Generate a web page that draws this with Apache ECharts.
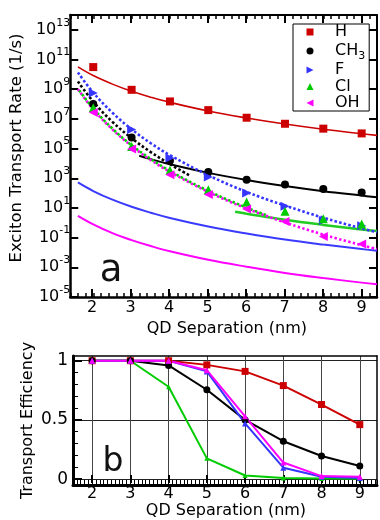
<!DOCTYPE html>
<html><head><meta charset="utf-8">
<script src="https://cdn.jsdelivr.net/npm/echarts@6/dist/echarts.min.js"></script>
<style>html,body{margin:0;padding:0;background:#fff}#c{width:380px;height:520px}</style>
</head><body><div id="c"></div>
<script>
const FONT = '"DejaVu Sans", "Liberation Sans", Arial, sans-serif';

// ---------- Panel a: transport rates (1/s) ----------
const sepX = [2, 3, 4, 5, 6, 7, 8, 9];
const legendNames = ['H', 'CH3', 'F', 'Cl', 'OH'];
const rateH   = [3.1e10, 9.1e8, 1.5e8, 3.9e7, 1.2e7, 4.7e6, 2.2e6, 1.05e6];
const rateCH3 = [1.0e8, 5.6e5, 1.5e4, 2.6e3, 8.0e2, 3.8e2, 1.9e2, 1.1e2];
const rateF   = [5.5e8, 1.9e6, 2.3e4, 1.2e3, 1.0e2, 13, 1.4, 0.63];
const rateCl  = [5.6e7, 1.4e5, 3.4e3, 1.7e2, 25, 5.9, 1.9, 0.83];
const rateOH  = [2.7e7, 9.3e4, 1.7e3, 79, 8.5, 1.2, 0.12, 0.037];

// fit curves
const fitX = [1.6, 2, 2.5, 3, 3.5, 4, 5, 6, 7, 8, 9, 9.4];
const fitHSolid       = [3.2e10, 8.3e9, 2.2e9, 7.2e8, 2.9e8, 1.3e8, 3.4e7, 1.15e7, 4.5e6, 2.0e6, 1.0e6, 7.8e5];
const fitBlueSolid    = [525, 138, 36, 12, 4.8, 2.1, 0.56, 0.19, 0.074, 0.034, 0.017, 0.013];
const fitMagentaSolid = [2.95, 0.78, 0.20, 0.068, 0.027, 0.012, 0.0032, 0.0011, 4.2e-4, 1.9e-4, 9.3e-5, 7.2e-5];
const fitFDotted      = [1.35e10, 5.9e8, 2.6e7, 2.0e6, 2.3e5, 3.6e4, 1.6e3, 1.2e2, 14.5, 2.2, 0.42, 0.23];
const fitOHDotted     = [1.0e9, 4.4e7, 1.95e6, 1.5e5, 1.7e4, 2.7e3, 1.2e2, 9.1, 1.07, 0.16, 0.031, 0.017];
const fitClDottedX = [1.6, 2, 2.5, 3, 3.5, 4, 5, 6, 6.5];
const fitClDotted  = [1.1e9, 5.0e7, 2.2e6, 1.7e5, 2.0e4, 3.1e3, 1.4e2, 10.5, 3.4];
const fitCH3DottedX = [1.6, 2, 2.5, 3, 3.5, 4, 4.5];
const fitCH3Dotted  = [3.3e9, 1.45e8, 6.3e6, 5.0e5, 5.8e4, 8.9e3, 1.6e3];
const fitCH3SolidX = [3.2, 3.5, 4, 5, 6, 7, 8, 9, 9.4];
const fitCH3Solid  = [3.3e4, 1.95e4, 8.7e3, 2.3e3, 7.6e2, 3.0e2, 1.35e2, 68, 52];
const fitClSolidX = [5.7, 6, 7, 8, 9, 9.4];
const fitClSolid  = [5.5, 4.1, 1.6, 0.72, 0.35, 0.28];

// ---------- Panel b: transport efficiency ----------
const effH   = [1, 1, 1, 0.965, 0.91, 0.79, 0.63, 0.46];
const effCH3 = [1, 1, 0.96, 0.755, 0.5, 0.32, 0.195, 0.11];
const effF   = [1, 1, 1, 0.91, 0.47, 0.096, 0.02, 0.01];
const effCl  = [1, 1, 0.78, 0.175, 0.03, 0.01, 0.005, 0.002];
const effOH  = [1, 1, 1, 0.92, 0.53, 0.14, 0.025, 0.02];

const COL = { H: '#cc0000', CH3: '#000000', F: '#3535ff', Cl: '#00cc00', OH: '#ff00ff' };
const RIGHT_TRI = 'path://M0,0L10,5L0,10Z';
const LEFT_TRI = 'path://M10,0L0,5L10,10Z';

// layout
const A = { left: 69, top: 15, width: 308, height: 282, xmin: 1.4, xmax: 9.4 };
const ppuA = A.width / (A.xmax - A.xmin);
const B = { left: 73, top: 356, width: 304, height: 129, xmin: 1.5, xmax: 9.45, ymin: -0.05, ymax: 1.04 };
const ppuB = B.width / (B.xmax - B.xmin);
const pyB = B.height / (B.ymax - B.ymin);

const zip = (xs, ys) => xs.map((x, i) => [x, ys[i]]);

function fit(name, xs, ys, color, width, dash, offset) {
  return { type: 'line', name, xAxisIndex: 0, yAxisIndex: 0, data: zip(xs, ys),
    symbol: 'none', showSymbol: false, smooth: 0.4, silent: true, z: 2,
    lineStyle: { color, width, type: dash || 'solid', dashOffset: offset || 0, cap: 'butt' } };
}
function pts(name, ys, symbol, size) {
  return { type: 'scatter', name, xAxisIndex: 0, yAxisIndex: 0, data: zip(sepX, ys),
    symbol, symbolSize: size, itemStyle: { color: COL[name], opacity: 1 }, z: 4 };
}
function eff(name, ys, symbol, size) {
  return { type: 'line', name: name + ' eff', xAxisIndex: 4, yAxisIndex: 3, data: zip(sepX, ys),
    symbol, symbolSize: size, showSymbol: true, z: 3,
    lineStyle: { color: COL[name], width: 2 }, itemStyle: { color: COL[name] } };
}

const dots = [2.6, 2.2];
const series = [
  fit('fitH', fitX, fitHSolid, COL.H, 1.6),
  fit('fitBlue', fitX, fitBlueSolid, '#3a3aff', 2),
  fit('fitMag', fitX, fitMagentaSolid, COL.OH, 2),
  fit('fitCH3s', fitCH3SolidX, fitCH3Solid, '#000', 2),
  fit('fitCls', fitClSolidX, fitClSolid, '#22cc22', 2.5),
  fit('fitCH3d', fitCH3DottedX, fitCH3Dotted, '#000', 2.6, dots),
  fit('fitFd', fitX, fitFDotted, '#3535ff', 2.6, dots),
  fit('fitOHd', fitX, fitOHDotted, COL.OH, 2.6, [2.4, 2.4]),
  fit('fitCld', fitClDottedX, fitClDotted, COL.Cl, 2.6, [2.4, 2.4], 2.4),
  pts('H', rateH, 'rect', 8),
  pts('CH3', rateCH3, 'circle', 8),
  pts('F', rateF, RIGHT_TRI, 9),
  pts('Cl', rateCl, 'triangle', 9),
  pts('OH', rateOH, LEFT_TRI, 9),
  eff('H', effH, 'rect', 7),
  eff('CH3', effCH3, 'circle', 7),
  eff('Cl', effCl, 'triangle', 5),
  eff('F', effF, 'triangle', 6),
  eff('OH', effOH, 'triangle', 6)
];

const blackLine = w => ({ show: true, onZero: false, lineStyle: { color: '#000', width: w } });
const noLine = { show: false };
const lblFont = { fontFamily: FONT, color: '#000' };

const option = {
  animation: false,
  backgroundColor: '#fff',
  textStyle: { fontFamily: FONT },
  grid: [
    { left: A.left, top: A.top, width: A.width, height: A.height },
    { left: A.left + (2 - A.xmin) * ppuA, top: A.top, width: 7 * ppuA, height: A.height },
    { left: B.left, top: B.top, width: B.width, height: B.height },
    { left: B.left + (2 - B.xmin) * ppuB, top: B.top, width: 7 * ppuB, height: B.height },
    { left: B.left, top: B.top + (B.ymax - 1) * pyB, width: B.width, height: pyB }
  ],
  xAxis: [
    { gridIndex: 0, type: 'value', position: 'bottom', min: A.xmin, max: A.xmax, interval: 0.2,
      axisLine: blackLine(2.5), axisTick: { inside: true, length: 4, lineStyle: { width: 1.5, color: '#000' } },
      axisLabel: { show: false }, splitLine: { show: false } },
    { gridIndex: 0, type: 'value', position: 'top', min: A.xmin, max: A.xmax, interval: 0.2,
      axisLine: blackLine(2), axisTick: { inside: true, length: 4, lineStyle: { width: 1.5, color: '#000' } },
      axisLabel: { show: false }, splitLine: { show: false } },
    { gridIndex: 1, type: 'value', position: 'bottom', min: 2, max: 9, interval: 1,
      axisLine: noLine, axisTick: { inside: true, length: 8, lineStyle: { width: 2, color: '#000' } },
      axisLabel: Object.assign({ fontSize: 16, margin: 3 }, lblFont), splitLine: { show: false },
      name: 'QD Separation (nm)', nameLocation: 'middle', nameGap: 23,
      nameTextStyle: { fontSize: 16, fontFamily: FONT, color: '#000' } },
    { gridIndex: 1, type: 'value', position: 'top', min: 2, max: 9, interval: 1,
      axisLine: noLine, axisTick: { inside: true, length: 8, lineStyle: { width: 2, color: '#000' } },
      axisLabel: { show: false }, splitLine: { show: false } },
    { gridIndex: 2, type: 'value', position: 'bottom', min: B.xmin, max: B.xmax, interval: 0.1,
      axisLine: blackLine(3), axisTick: { inside: true, length: 5, lineStyle: { width: 1, color: '#000' } },
      axisLabel: { show: false }, splitLine: { show: false } },
    { gridIndex: 2, type: 'value', position: 'top', min: B.xmin, max: B.xmax,
      axisLine: blackLine(1.5), axisTick: { show: false }, axisLabel: { show: false }, splitLine: { show: false } },
    { gridIndex: 3, type: 'value', position: 'bottom', min: 2, max: 9, interval: 1,
      axisLine: noLine, axisTick: { inside: true, length: 8, lineStyle: { width: 2, color: '#000' } },
      axisLabel: Object.assign({ fontSize: 16, margin: 3 }, lblFont),
      splitLine: { show: true, lineStyle: { color: '#444', width: 1 } },
      name: 'QD Separation (nm)', nameLocation: 'middle', nameGap: 20,
      nameTextStyle: { fontSize: 16, fontFamily: FONT, color: '#000' } },
    { gridIndex: 4, type: 'value', min: 0, max: 1, show: false }
  ],
  yAxis: [
    { gridIndex: 0, type: 'log', logBase: 10, position: 'left', min: 1e-5, max: 1e14, interval: 2,
      axisLine: blackLine(2.5), axisTick: { inside: true, length: 8, lineStyle: { width: 2, color: '#000' } },
      splitLine: { show: false },
      axisLabel: { margin: 0, showMaxLabel: false,
        formatter: v => { const e = Math.round(Math.log10(v)); if (Math.abs(e + 5) % 2 !== 0) return ''; return '{b|10}{s|' + e + '}'; },
        rich: { b: { fontSize: 16, lineHeight: 20, fontFamily: FONT, color: '#000' },
                s: { fontSize: 11, lineHeight: 20, fontFamily: FONT, color: '#000', padding: [0, 0, 14, 0] } } },
      name: 'Exciton Transport Rate (1/s)', nameLocation: 'middle', nameGap: 42,
      nameTextStyle: { fontSize: 16.5, fontFamily: FONT, color: '#000', padding: [0, 0, 0, 16] } },
    { gridIndex: 0, type: 'log', logBase: 10, position: 'right', min: 1e-5, max: 1e14, interval: 2,
      axisLine: blackLine(2), axisTick: { inside: true, length: 8, lineStyle: { width: 2, color: '#000' } },
      axisLabel: { show: false }, splitLine: { show: false } },
    { gridIndex: 1, type: 'value', min: 0, max: 1, show: false },
    { gridIndex: 2, type: 'value', position: 'left', min: B.ymin, max: B.ymax,
      axisLine: blackLine(3), axisTick: { show: false }, axisLabel: { show: false }, splitLine: { show: false },
      name: 'Transport Efficiency', nameLocation: 'middle', nameGap: 37,
      nameTextStyle: { fontSize: 16, fontFamily: FONT, color: '#000' } },
    { gridIndex: 2, type: 'value', position: 'right', min: B.ymin, max: B.ymax,
      axisLine: blackLine(1.5), axisTick: { show: false }, axisLabel: { show: false }, splitLine: { show: false } },
    { gridIndex: 3, type: 'value', min: 0, max: 1, show: false },
    { gridIndex: 4, type: 'value', position: 'left', min: 0, max: 1, interval: 0.5,
      axisLine: noLine, axisTick: { inside: true, length: 9, lineStyle: { width: 2, color: '#000' } },
      minorTick: { show: true, splitNumber: 5, length: 5, lineStyle: { width: 1, color: '#000' } },
      axisLabel: Object.assign({ fontSize: 17, margin: 5 }, lblFont),
      splitLine: { show: true, lineStyle: { color: '#222', width: 1 } } }
  ],
  legend: {
    orient: 'vertical', left: 293, top: 24, padding: [0, 4, 0, 13.5], itemGap: 0.5,
    itemWidth: 7, itemHeight: 7, borderColor: '#000', borderWidth: 1, selectedMode: false,
    data: [
      { name: 'H', icon: 'rect' }, { name: 'CH3', icon: 'circle' }, { name: 'F', icon: RIGHT_TRI },
      { name: 'Cl', icon: 'triangle' }, { name: 'OH', icon: LEFT_TRI }
    ],
    formatter: n => n === 'CH3' ? '{a|CH}{s|3}' : '{a|' + n + '}',
    textStyle: { color: '#000', fontFamily: FONT, fontSize: 16,
      rich: { a: { fontSize: 16, lineHeight: 17.5, padding: [0, 0, 0, 16.5], fontFamily: FONT, color: '#000' },
              s: { fontSize: 11, lineHeight: 17.5, padding: [10, 0, 0, 0], fontFamily: FONT, color: '#000' } } }
  },
  graphic: [
    { type: 'text', x: 111, y: 271, style: { text: 'a', fontSize: 37, fontFamily: FONT, fill: '#111', align: 'center', verticalAlign: 'middle' } },
    { type: 'text', x: 113, y: 462, style: { text: 'b', fontSize: 33, fontFamily: FONT, fill: '#111', align: 'center', verticalAlign: 'middle' } }
  ],
  series
};

const chart = echarts.init(document.getElementById('c'), null, { renderer: 'canvas' });
chart.setOption(option);
</script>
</body></html>
